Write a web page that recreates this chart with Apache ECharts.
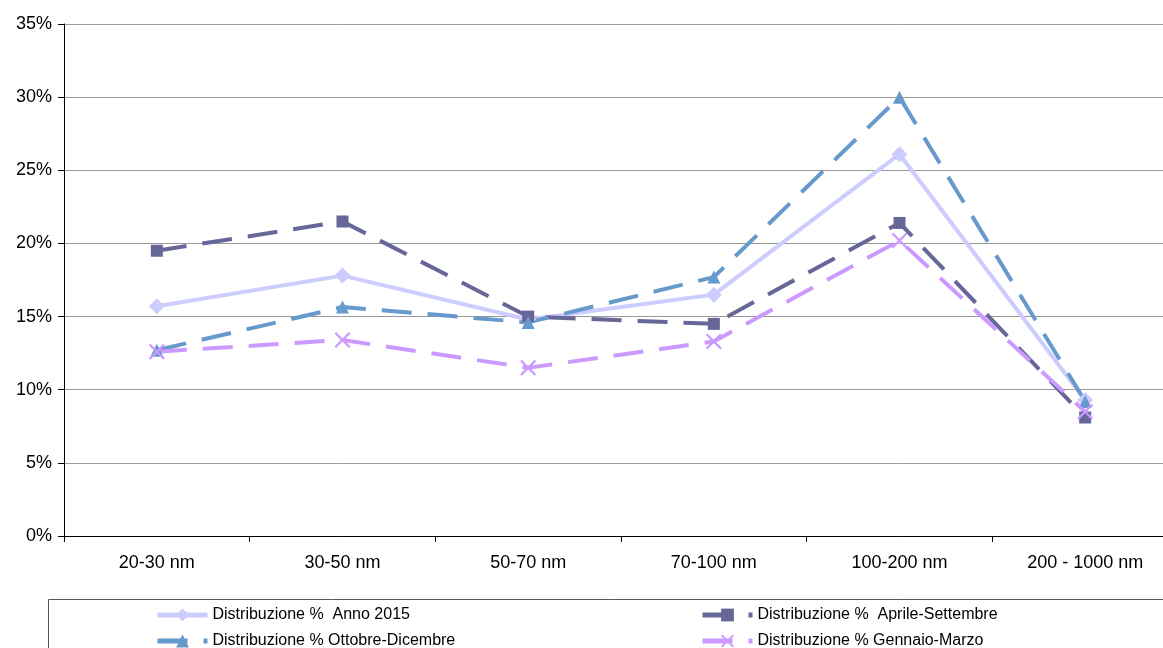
<!DOCTYPE html>
<html>
<head>
<meta charset="utf-8">
<script src="https://cdn.jsdelivr.net/npm/echarts@6/dist/echarts.min.js"></script>
<style>html,body{margin:0;padding:0;background:#fff;overflow:hidden;width:1163px;height:648px}#c{width:1180px;height:648px}</style>
</head>
<body>
<div id="c"></div>
<script>
const categories = ['20-30 nm','30-50 nm','50-70 nm','70-100 nm','100-200 nm','200 - 1000 nm'];
const anno2015 = [15.7, 17.8, 14.8, 16.5, 26.1, 9.3];
const aprileSettembre = [19.5, 21.5, 15.0, 14.5, 21.4, 8.1];
const ottobreDicembre = [12.7, 15.65, 14.6, 17.7, 30.0, 9.2];
const gennaioMarzo = [12.6, 13.4, 11.5, 13.3, 20.2, 8.5];
const yTicks = [0, 5, 10, 15, 20, 25, 30, 35];

const names = ['Distribuzione %  Anno 2015','Distribuzione %  Aprile-Settembre','Distribuzione % Ottobre-Dicembre','Distribuzione % Gennaio-Marzo'];
const font = 'Liberation Sans, Arial, sans-serif';
const xPath = 'path://M0,1 L1,0 L5,4 L9,0 L10,1 L6,5 L10,9 L9,10 L5,6 L1,10 L0,9 L4,5 Z';

function mk(name, data, color, symbol, size, dashed) {
  return {
    name, type: 'line', data, symbol, symbolSize: size, showSymbol: true,
    lineStyle: { color, width: 4, type: dashed ? [30, 16] : 'solid' },
    itemStyle: { color },
    emphasis: { disabled: true }, animation: false, z: 3
  };
}

function leg(name, left, top) {
  return { left, top, padding: 0, itemWidth: 50, itemHeight: 16, itemGap: 0, data: [name],
    lineStyle: { width: 5 },
    textStyle: { fontFamily: font, fontSize: 16, color: '#000', padding: [0, 0, 0, 0] } };
}

const chart = echarts.init(document.getElementById('c'));
chart.setOption({
  animation: false,
  grid: { left: 64, top: 24, width: 1114, height: 512, containLabel: false },
  xAxis: {
    type: 'category', data: categories, boundaryGap: true,
    axisLine: { lineStyle: { color: '#000', width: 1 } },
    axisTick: { show: true, length: 6, lineStyle: { color: '#000' } },
    axisLabel: { color: '#000', fontFamily: font, fontSize: 18, margin: 18 },
    splitLine: { show: false }
  },
  yAxis: {
    type: 'value', min: 0, max: 35, interval: 5,
    axisLine: { show: true, lineStyle: { color: '#000', width: 1 } },
    axisTick: { show: true, length: 6, lineStyle: { color: '#000' } },
    axisLabel: { color: '#000', fontFamily: font, fontSize: 18, margin: 12,
      formatter: v => yTicks.includes(v) ? v + '%' : '' },
    splitLine: { show: true, lineStyle: { color: '#999', width: 1 } }
  },
  legend: [
    leg(names[0], 155, 607),
    leg(names[2], 155, 633),
    leg(names[1], 700, 607),
    leg(names[3], 700, 633)
  ],
  graphic: [{ type: 'rect', shape: { x: 48.5, y: 599.5, width: 1200, height: 100 },
    style: { fill: 'none', stroke: '#555', lineWidth: 1 }, silent: true }],
  series: [
    mk(names[0], anno2015, '#ccccff', 'diamond', 16, false),
    mk(names[1], aprileSettembre, '#666699', 'rect', 12, true),
    mk(names[2], ottobreDicembre, '#6699cc', 'triangle', 13, true),
    mk(names[3], gennaioMarzo, '#cc99ff', xPath, 16, true)
  ]
});
</script>
</body>
</html>
